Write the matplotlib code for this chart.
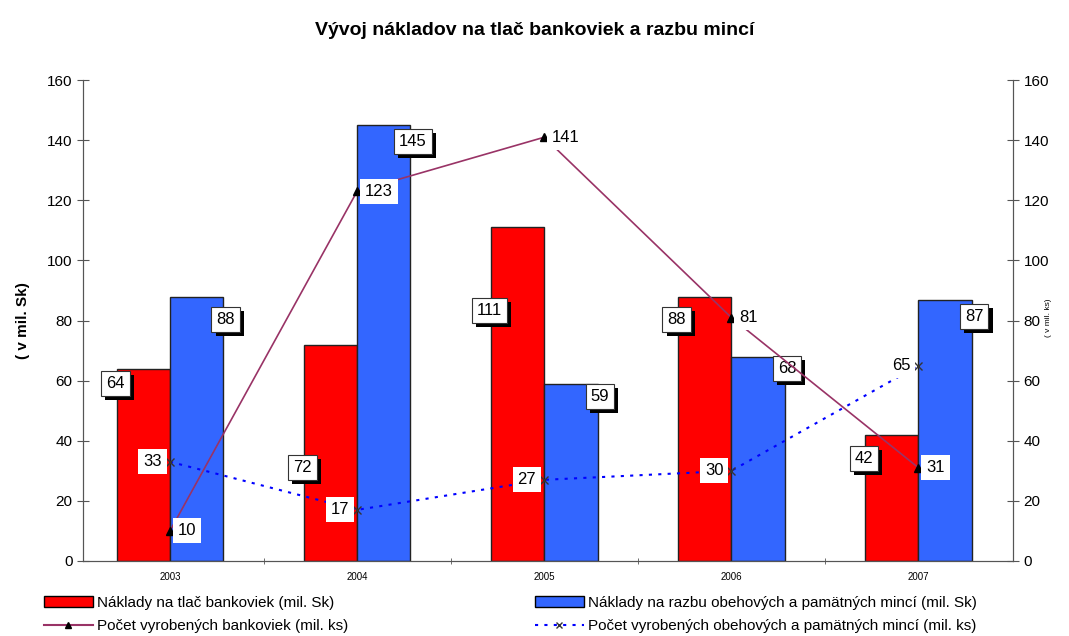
import numpy as np
import matplotlib
matplotlib.use("Agg")
import matplotlib.pyplot as plt
import matplotlib.patheffects as pe
from matplotlib.patches import Patch
from matplotlib.lines import Line2D

# data
years = ["2003", "2004", "2005", "2006", "2007"]
naklady_bankovky = [64, 72, 111, 88, 42]      # mil. Sk
naklady_mince = [88, 145, 59, 68, 87]         # mil. Sk
pocet_bankovky = [10, 123, 141, 81, 31]       # mil. ks
pocet_mince = [33, 17, 27, 30, 65]            # mil. ks

# label offsets (pixels) below the bar top, as placed in the original
red_dy = [-15, -123, -83, -23, -24]
blue_dy = [-23, -16, -13, -12, -17]

plt.rcParams['font.family'] = ['Liberation Sans', 'DejaVu Sans']

fig = plt.figure(figsize=(10.69, 6.36), dpi=100)
ax = fig.add_axes([0.0776, 0.118, 0.87, 0.756])
ax2 = ax.twinx()

x = np.arange(len(years))
w = 0.285

ax.bar(x - w / 2, naklady_bankovky, w, color="#FF0000", edgecolor="#222222", linewidth=1, zorder=2)
ax.bar(x + w / 2, naklady_mince, w, color="#3366FF", edgecolor="#222222", linewidth=1, zorder=2)

ax.set_xlim(-0.465, 4.505)
ax.set_ylim(0, 160)
ax2.set_ylim(0, 160)
ax.set_yticks(range(0, 161, 20))
ax2.set_yticks(range(0, 161, 20))
ax.set_xticks(x)
ax.set_xticklabels(years, fontsize=7)
ax.set_xticks(x[:-1] + 0.5, minor=True)
ax.tick_params(axis="x", which="major", length=0, pad=8)
ax.tick_params(axis="x", which="minor", length=5, direction="inout", color="#555555")
ax.tick_params(axis="y", direction="inout", length=8, labelsize=11, color="#555555")
ax2.tick_params(axis="y", direction="inout", length=8, labelsize=11, color="#555555")

for a in (ax, ax2):
    a.spines["top"].set_visible(False)
    for s in ("left", "right", "bottom"):
        a.spines[s].set_color("#555555")

ax.set_ylabel("( v mil. Sk)", fontsize=11, fontweight="bold", labelpad=12)
fig.text(1049 / 1069, 0.5, "( v mil. ks)", fontsize=6, rotation=90, ha="center", va="center")

# lines on secondary axis
ax2.plot(x, pocet_bankovky, color="#993366", linewidth=1.2, marker="^",
         markersize=6, markerfacecolor="black", markeredgecolor="black", zorder=3)
ax2.plot(x, pocet_mince, color="#0000FF", linewidth=1.5, linestyle=(0, (1.5, 3)),
         marker="x", markersize=6, markeredgecolor="#333333", zorder=3)

shadow = [pe.SimplePatchShadow(offset=(3, -3), shadow_rgbFace="black", alpha=1), pe.Normal()]


def boxed(axis, xv, yv, text, dx, dy):
    t = axis.annotate(text, (xv, yv), xytext=(dx, dy), textcoords="offset pixels",
                      ha="center", va="center", fontsize=12, zorder=5,
                      bbox=dict(boxstyle="square,pad=0.3", fc="white", ec="#333333", lw=0.8))
    t.get_bbox_patch().set_path_effects(shadow)


for i in range(len(years)):
    boxed(ax, x[i] - w / 2, naklady_bankovky[i], str(naklady_bankovky[i]), -28, red_dy[i])
    boxed(ax, x[i] + w / 2, naklady_mince[i], str(naklady_mince[i]), 29, blue_dy[i])
    ax2.annotate(str(pocet_bankovky[i]), (x[i], pocet_bankovky[i]), xytext=(8, 0),
                 textcoords="offset pixels", ha="left", va="center", fontsize=12, zorder=6,
                 bbox=dict(boxstyle="square,pad=0.3", fc="white", ec="none"))
    ax2.annotate(str(pocet_mince[i]), (x[i], pocet_mince[i]), xytext=(-8, 0),
                 textcoords="offset pixels", ha="right", va="center", fontsize=12, zorder=6,
                 bbox=dict(boxstyle="square,pad=0.3", fc="white", ec="none"))

fig.suptitle("Vývoj nákladov na tlač bankoviek a razbu mincí", fontsize=14,
             fontweight="bold", y=0.965)

handles = [
    Patch(facecolor="#FF0000", edgecolor="black", label="Náklady na tlač bankoviek (mil. Sk)"),
    Line2D([], [], color="#993366", marker="^", markerfacecolor="black", markeredgecolor="black",
           markersize=5, label="Počet vyrobených bankoviek (mil. ks)"),
    Patch(facecolor="#3366FF", edgecolor="black", label="Náklady na razbu obehových a pamätných mincí (mil. Sk)"),
    Line2D([], [], color="#0000FF", linestyle=(0, (1.5, 3)), marker="x", markeredgecolor="#333333",
           markersize=5, label="Počet vyrobených obehových a pamätných mincí (mil. ks)"),
]
fig.legend(handles=handles, ncol=2, loc="upper left", bbox_to_anchor=(0.028, 1 - 582 / 636),
           frameon=False, fontsize=11, handlelength=3.2, handletextpad=0.3,
           columnspacing=12.2, labelspacing=0.6)

fig.savefig("out.png", dpi=100)
